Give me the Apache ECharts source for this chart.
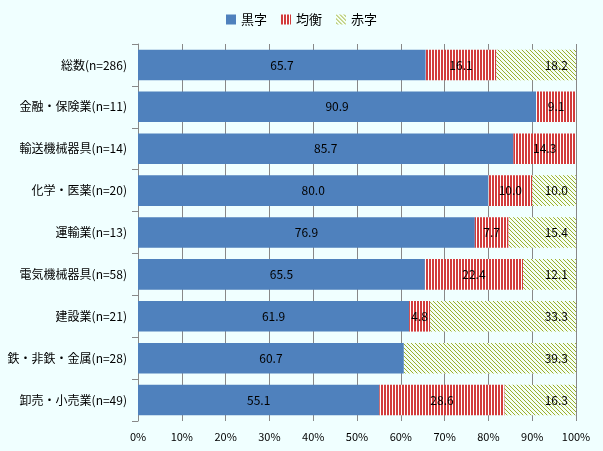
<!DOCTYPE html>
<html><head><meta charset="utf-8">
<script src="https://cdn.jsdelivr.net/npm/echarts@6/dist/echarts.min.js"></script>
<style>html,body{margin:0;padding:0;background:#F0FFFF}#c{width:603px;height:451px}</style>
</head><body><div id="c"></div>
<script>
const categories = ['総数(n=286)','金融・保険業(n=11)','輸送機械器具(n=14)','化学・医薬(n=20)','運輸業(n=13)','電気機械器具(n=58)','建設業(n=21)','鉄・非鉄・金属(n=28)','卸売・小売業(n=49)'];
const seriesNames = ['黒字','均衡','赤字'];
const kuroji = [65.7, 90.9, 85.7, 80.0, 76.9, 65.5, 61.9, 60.7, 55.1];
const kinko  = [16.1, 9.1, 14.3, 10.0, 7.7, 22.4, 4.8, 0, 28.6];
const akaji  = [18.2, 0, 0, 10.0, 15.4, 12.1, 33.3, 39.3, 16.3];
const xTicks = [0,10,20,30,40,50,60,70,80,90,100];

function redPattern(){
  const c=document.createElement('canvas');c.width=3;c.height=3;
  const g=c.getContext('2d');g.fillStyle='#ffffff';g.fillRect(0,0,3,3);
  g.fillStyle='#d23c3c';g.fillRect(0,0,2,3);return c;
}
function greenPattern(){
  const c=document.createElement('canvas');c.width=4;c.height=4;
  const g=c.getContext('2d');g.fillStyle='#f4fff4';g.fillRect(0,0,4,4);
  g.fillStyle='#9aae2e';for(let i=0;i<4;i++)g.fillRect(i,i,1,1);return c;
}
const fontFam='"Noto Sans CJK JP", sans-serif';
const fmt = p => p.value > 0 ? p.value.toFixed(1) : '';
const chart=echarts.init(document.getElementById('c'));
chart.setOption({
  backgroundColor:'#F0FFFF',
  animation:false,
  textStyle:{fontFamily:fontFam},
  legend:{top:8,left:'center',itemWidth:10,itemHeight:10,itemGap:14,icon:'rect',
    textStyle:{fontSize:13,color:'#000',fontFamily:fontFam},data:seriesNames},
  grid:{left:138,right:27,top:44,bottom:30,containLabel:false,outerBoundsMode:'none'},
  xAxis:{type:'value',min:xTicks[0],max:xTicks[xTicks.length-1],interval:10,
    axisLine:{show:false},axisTick:{show:false},
    splitLine:{show:true,lineStyle:{color:'#888',width:1}},
    axisLabel:{formatter:'{value}%',fontSize:11,color:'#000',margin:10,fontFamily:fontFam}},
  yAxis:{type:'category',data:categories,inverse:true,
    axisLine:{show:true,lineStyle:{color:'#888'}},
    axisTick:{show:true,length:6,lineStyle:{color:'#888'}},
    axisLabel:{fontSize:12,color:'#000',margin:11,fontFamily:fontFam}},
  series:[
    {name:seriesNames[0],type:'bar',stack:'s',data:kuroji,barCategoryGap:'27%',
     itemStyle:{color:'#4f81bd'},
     label:{show:true,position:'inside',formatter:fmt,color:'#000',fontSize:12,fontFamily:fontFam}},
    {name:seriesNames[1],type:'bar',stack:'s',data:kinko,
     itemStyle:{color:{image:redPattern(),repeat:'repeat'}},
     label:{show:true,position:'inside',formatter:fmt,color:'#000',fontSize:12,fontFamily:fontFam}},
    {name:seriesNames[2],type:'bar',stack:'s',data:akaji,
     itemStyle:{color:{image:greenPattern(),repeat:'repeat'}},
     label:{show:true,position:'insideRight',distance:8,formatter:fmt,color:'#000',fontSize:12,fontFamily:fontFam}}
  ]
});
</script></body></html>
